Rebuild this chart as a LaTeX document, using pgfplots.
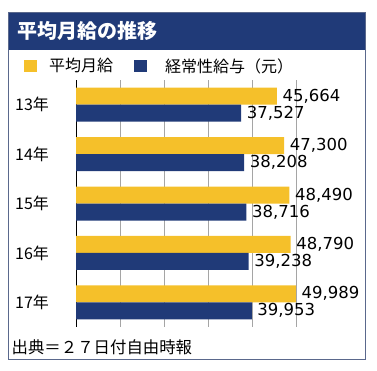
\documentclass[border=0pt]{standalone}
\usepackage{fontspec}
\setmainfont{Noto Sans CJK JP}
\newfontfamily\numfont{DejaVu Sans}
\usepackage{pgfplots}
\pgfplotsset{compat=1.18}
\definecolor{cyellow}{RGB}{245,192,42}
\definecolor{cnavy}{RGB}{32,58,120}
\definecolor{cframe}{RGB}{90,104,140}
\definecolor{cgrid}{RGB}{165,165,165}
\begin{document}
\begin{tikzpicture}
\useasboundingbox (0pt,0pt) rectangle (377pt,370pt);
\fill[cnavy] (8pt,320pt) rectangle (365.5pt,357pt);
\draw[cframe, line width=1pt] (8pt,11pt) rectangle (365.5pt,357pt);
\node[anchor=west, text=white, inner sep=0pt, font=\fontsize{20}{20}\selectfont\bfseries] at (17.5pt,339pt) {平均月給の推移};
\node[anchor=west, inner sep=0pt, font=\fontsize{16.4}{16.4}\selectfont] at (11.5pt,23pt) {出典＝２７日付自由時報};
\foreach \gx in {120,164,208,252,296} {
  \fill[cgrid] (\gx pt-0.45pt,43pt) rectangle (\gx pt+0.45pt,290pt);
}
\fill[black] (75.5pt,43pt) rectangle (76.5pt,290pt);
\begin{axis}[
  at={(76pt,43pt)}, anchor=south west,
  scale only axis, width=220pt, height=247pt,
  xmin=0, xmax=50000, ymin=-0.5, ymax=4.5,
  xbar, bar width=17pt,
  axis line style={draw=none},
  xtick=\empty,
  scaled x ticks=false,
  major tick length=0pt,
  ytick={0,1,2,3,4},
  yticklabels={17年,16年,15年,14年,13年},
  yticklabel style={anchor=west, inner sep=0pt, xshift=-61pt, font=\fontsize{16}{16}\selectfont},
  clip=false,
  point meta=x,
  nodes near coords,
  nodes near coords style={anchor=west, inner sep=0pt, xshift=5.5pt, text=black, font=\numfont\fontsize{16.5}{16.5}\selectfont},
  /pgf/number format/.cd, 1000 sep={,}, fixed, precision=0, assume math mode=true, /pgfplots/.cd,
  legend columns=2,
  legend image code/.code={\fill[#1] (0pt,-6pt) rectangle (13pt,6pt);},
  legend style={draw=none, fill=none, at={(0,1)}, anchor=west, xshift=-52pt, yshift=14pt,
    font=\fontsize{16}{16}\selectfont, inner sep=0pt,
    /tikz/every odd column/.append style={column sep=6pt},
    /tikz/every even column/.append style={column sep=15pt},
    nodes={inner xsep=6pt}},
]
\addplot+[draw=none, fill=cyellow, bar shift=8.5pt] coordinates {(45664,4) (47300,3) (48490,2) (48790,1) (49989,0)};
\addplot+[draw=none, fill=cnavy, bar shift=-8.5pt] coordinates {(37527,4) (38208,3) (38716,2) (39238,1) (39953,0)};
\legend{平均月給,\hspace{6pt}経常性給与（元）}
\end{axis}
\end{tikzpicture}
\end{document}
